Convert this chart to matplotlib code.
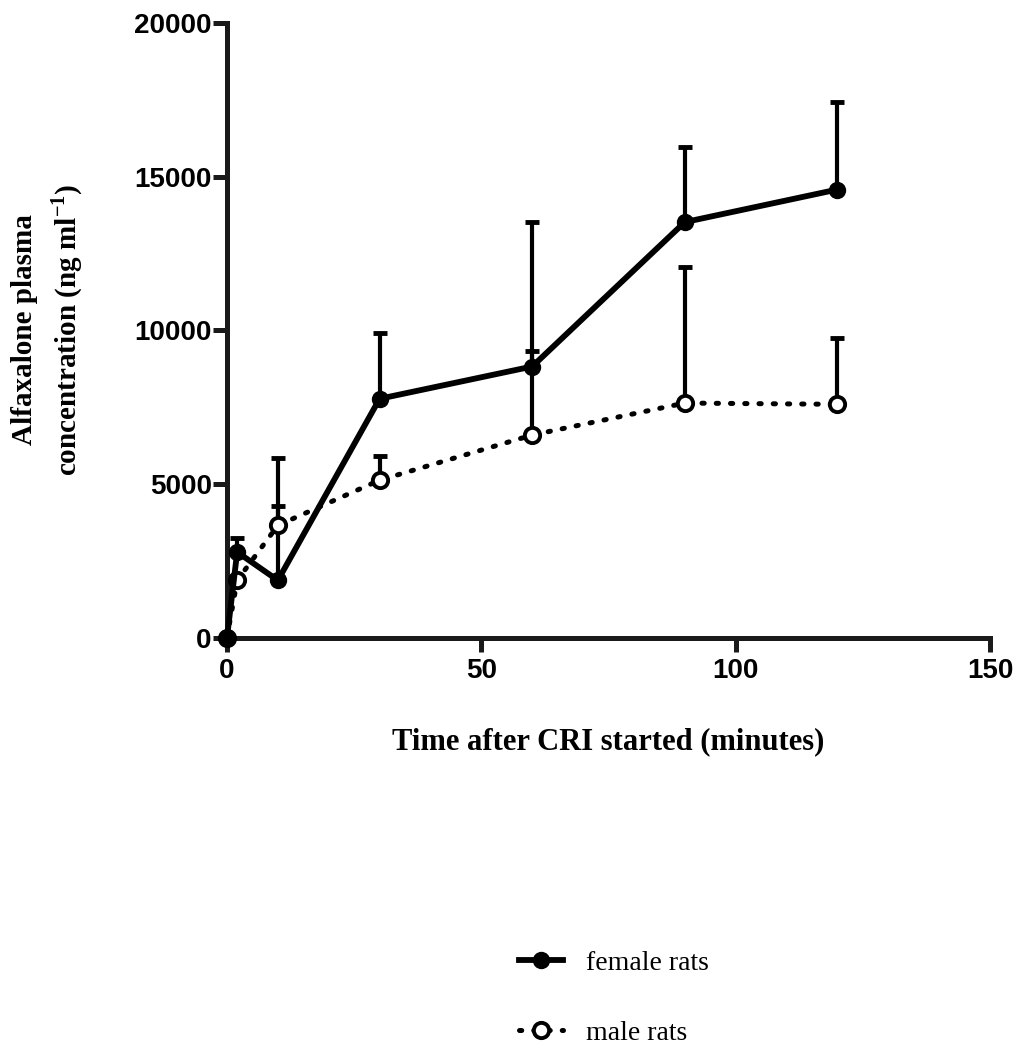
import matplotlib
matplotlib.use("Agg")
import matplotlib.pyplot as plt
import numpy as np

plt.rcParams["mathtext.fontset"] = "custom"
plt.rcParams["mathtext.rm"] = "Liberation Serif"
plt.rcParams["mathtext.bf"] = "Liberation Serif:bold"

# Data
times = [0, 2, 10, 30, 60, 90, 120]
female_mean = [0, 2780, 1860, 7770, 8820, 13520, 14580]
female_sd = [0, 450, 3970, 2150, 4710, 2440, 2840]
male_mean = [0, 1860, 3650, 5120, 6590, 7630, 7590]
male_sd = [0, 0, 620, 780, 2720, 4420, 2150]
x_ticks = [0, 50, 100, 150]
y_ticks = [0, 5000, 10000, 15000, 20000]
series_labels = ["female rats", "male rats"]

W, H = 1017, 1050
fig = plt.figure(figsize=(W / 100, H / 100), dpi=100)
ax = fig.add_axes([227 / W, 1 - 637.5 / H, (990 - 227) / W, (637.5 - 23) / H])

sans_bold = dict(family="Liberation Sans", weight="bold")
serif = "Liberation Serif"

ax.errorbar(times, female_mean, yerr=[np.zeros(len(female_sd)), female_sd],
            fmt="none", ecolor="black", elinewidth=3, capsize=5, capthick=3.5,
            zorder=2, clip_on=False)
ax.errorbar(times, male_mean, yerr=[np.zeros(len(male_sd)), male_sd],
            fmt="none", ecolor="black", elinewidth=3, capsize=5, capthick=3.5,
            zorder=2, clip_on=False)

l1, = ax.plot(times, female_mean, color="black", lw=4.2, marker="o",
              markersize=11.5, markerfacecolor="black", markeredgecolor="black",
              zorder=4, clip_on=False, label=series_labels[0])
l2, = ax.plot(times, male_mean, color="black", lw=3.6, linestyle=(0, (0.45, 2.4)),
              dash_capstyle="round", marker="o", markersize=11,
              markerfacecolor="white", markeredgecolor="black", markeredgewidth=2.8,
              zorder=3, clip_on=False, label=series_labels[1])

ax.set_xlim(0, 150)
ax.set_ylim(0, 20000)
ax.set_xticks(x_ticks)
ax.set_yticks(y_ticks)
ax.set_xticklabels([str(v) for v in x_ticks], fontsize=20, **sans_bold)
ax.set_yticklabels([str(v) for v in y_ticks], fontsize=20, **sans_bold)
for s in ["top", "right"]:
    ax.spines[s].set_visible(False)
for s in ["left", "bottom"]:
    ax.spines[s].set_linewidth(3.6)
    ax.spines[s].set_color("#1a1a1a")
ax.tick_params(axis="both", width=3.6, color="#1a1a1a", direction="out")
ax.tick_params(axis="y", length=10, pad=1)
ax.tick_params(axis="x", length=10, pad=5)

fig.text(608 / W, 1 - 742 / H, "Time after CRI started (minutes)",
         ha="center", va="center", fontsize=22, fontweight="bold", family=serif)
fig.text(48 / W, 1 - 330 / H,
         "Alfaxalone plasma\nconcentration (ng ml$^{\\mathbf{-1}}$)",
         ha="center", va="center", rotation=90, fontsize=21, fontweight="bold",
         family=serif, linespacing=1.4)

leg = fig.legend(handles=[l1, l2], loc="center left",
                 bbox_to_anchor=(505 / W, 1 - 998 / H), frameon=False,
                 prop=dict(family=serif, size=20), handlelength=1.6,
                 handletextpad=0.8, labelspacing=1.6, borderpad=0)

fig.savefig("out.png", dpi=100)
